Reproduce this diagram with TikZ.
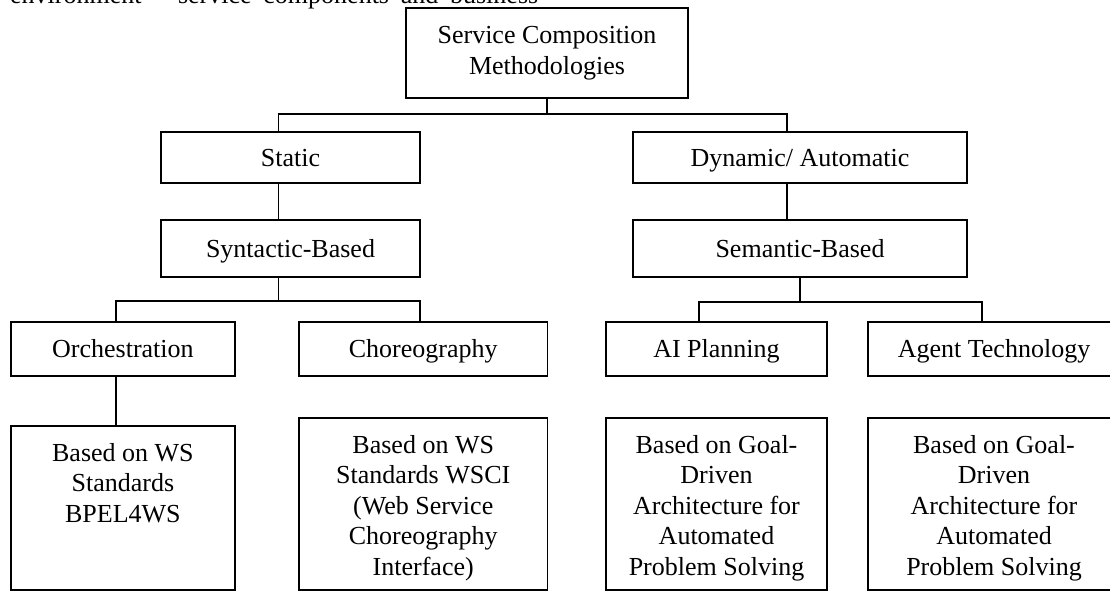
\documentclass[tikz,border=0pt]{standalone}
\usepackage{fontspec}
\setmainfont{Liberation Serif}
\usepackage{tikz}
\usetikzlibrary{calc}

\begin{document}
\begin{tikzpicture}[x=1pt,y=-1pt,
  every node/.style={font=\fontsize{26}{30.5}\selectfont},
  box/.style={draw,line width=1.7pt,align=center,inner sep=0pt},
  tag/.style={box,text height=23.4pt,text depth=6.2pt},
  leaftext/.style={anchor=north,yshift=-17.7pt,align=center,inner sep=0pt},
  link/.style={line width=1.7pt}]
\useasboundingbox (0,0) rectangle (1110,591);
\node[anchor=base west,inner sep=0pt] (prev) at (10,4) {\makebox[528pt][s]{environment – service components and business}};
\node[box,minimum width=282pt,minimum height=90pt] (scm) at (547,53) {Service Composition\\Methodologies};
\node[tag,minimum width=259pt,minimum height=51pt] (static) at (290.5,157.5) {Static};
\node[tag,minimum width=259pt,minimum height=57pt] (syntactic) at (290.5,248.5) {Syntactic-Based};
\node[tag,minimum width=334pt,minimum height=51pt] (dynamic) at (800,157.5) {Dynamic/ Automatic};
\node[tag,minimum width=334pt,minimum height=57pt] (semantic) at (800,248.5) {Semantic-Based};
\node[tag,minimum width=224.3pt,minimum height=54pt] (orch) at (122.9,349) {Orchestration};
\node[tag,minimum width=248.5pt,minimum height=54pt] (choreo) at (423.25,349) {Choreography};
\node[tag,minimum width=221pt,minimum height=54pt] (aiplan) at (716.5,349) {AI Planning};
\node[tag,minimum width=252pt,minimum height=54pt] (agent) at (994,349) {Agent Technology};
\node[box,minimum width=224.3pt,minimum height=164pt,
  label={[leaftext]north:{Based on WS\\Standards\\BPEL4WS}}] (bpel) at (122.9,508) {};
\node[box,minimum width=248.5pt,minimum height=172pt,
  label={[leaftext]north:{Based on WS\\Standards WSCI\\(Web Service\\Choreography\\Interface)}}] (wsci) at (423.25,504) {};
\node[box,minimum width=221pt,minimum height=172pt,
  label={[leaftext]north:{Based on Goal-\\Driven\\Architecture for\\Automated\\Problem Solving}}] (aigoal) at (716.5,504) {};
\node[box,minimum width=252pt,minimum height=172pt,
  label={[leaftext]north:{Based on Goal-\\Driven\\Architecture for\\Automated\\Problem Solving}}] (agentgoal) at (994,504) {};
\draw[link] (scm.south) -- ++(0,15) coordinate (fork1);
\draw[link] ([xshift=-12pt]static.north) |- (fork1) -| ([xshift=-13pt]dynamic.north);
\draw[link] ([xshift=-12pt]static.south) -- ([xshift=-12pt]syntactic.north);
\draw[link] ([xshift=-13pt]dynamic.south) -- ([xshift=-13pt]semantic.north);
\draw[link] ([xshift=-12pt]syntactic.south) -- ++(0,23) coordinate (fork2);
\draw[link] ([xshift=-7pt]orch.north) |- (fork2) -| ([xshift=-3.5pt]choreo.north);
\draw[link] (semantic.south) -- ++(0,24) coordinate (fork3);
\draw[link] ([xshift=-17.5pt]aiplan.north) |- (fork3) -| ([xshift=-12pt]agent.north);
\draw[link] ([xshift=-7pt]orch.south) -- ([xshift=-7pt]bpel.north);
\end{tikzpicture}
\end{document}
